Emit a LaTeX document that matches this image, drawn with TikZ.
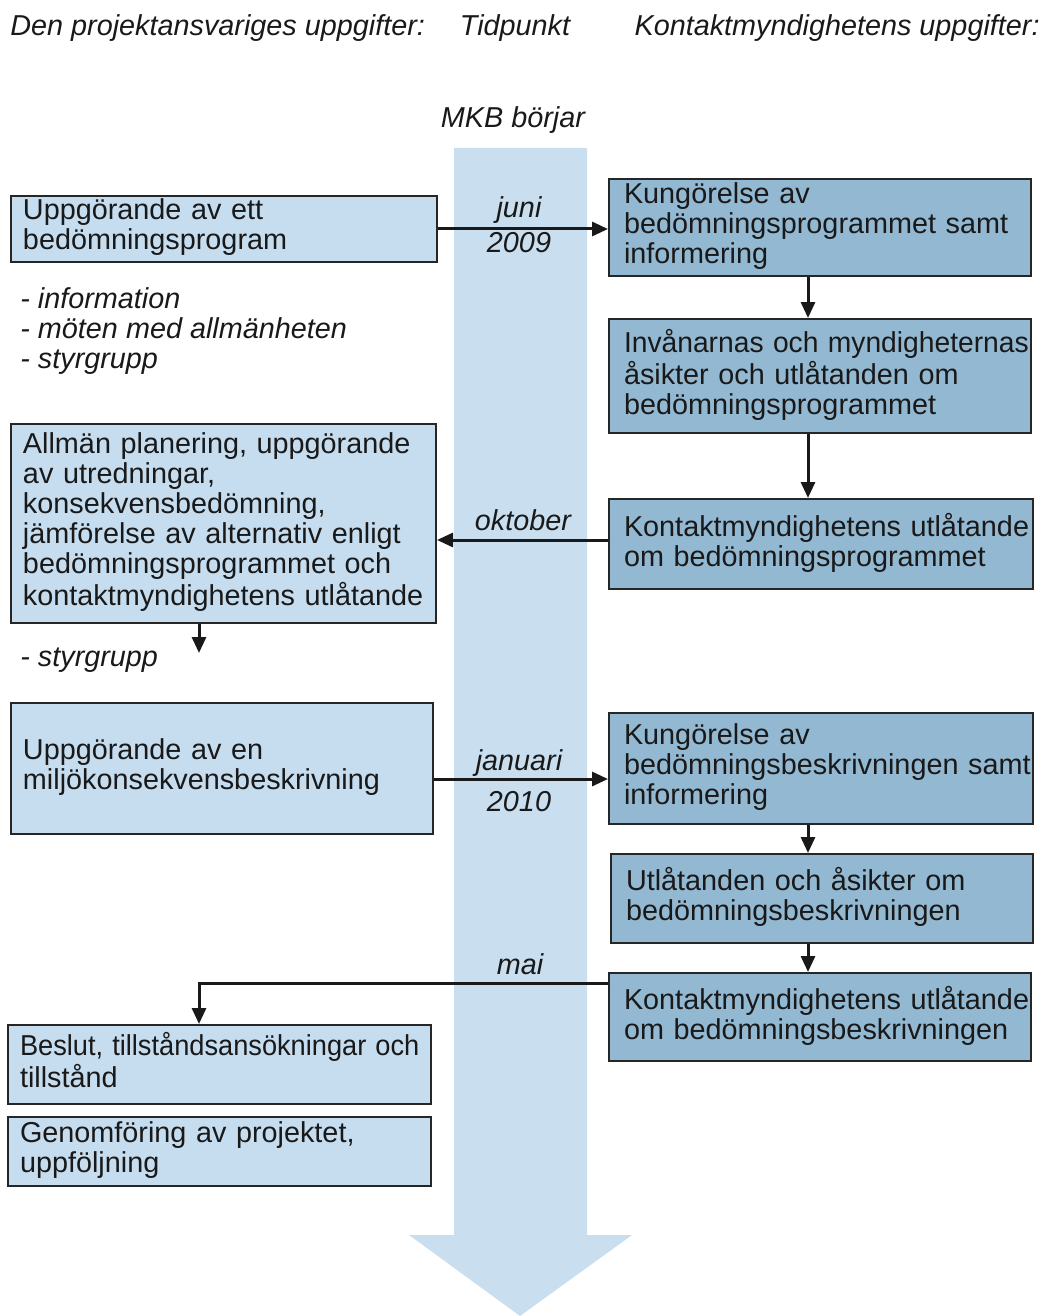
\documentclass[tikz,border=0pt]{standalone}
\usepackage{graphicx}
\usepackage{fontspec}
\setmainfont{Liberation Sans}
\usetikzlibrary{arrows, arrows.meta}

\definecolor{bandblue}{RGB}{201,223,240}
\definecolor{leftblue}{RGB}{198,221,240}
\definecolor{rightblue}{RGB}{147,184,210}

\newcommand{\boxlines}[1]{\begin{tabular}{@{}l@{}}#1\end{tabular}}
\newcommand{\tightline}[2]{\scalebox{#1}[1]{#2}}

\tikzset{
  txt/.style={font=\fontsize{14.4}{15}\selectfont, text=black!90, inner sep=0pt},
  itxt/.style={txt, font=\fontsize{14.4}{15}\selectfont\itshape},
  leftbox/.style={txt, draw=black!85, line width=1pt, fill=leftblue, anchor=north west,
    align=left, inner xsep=6pt, inner ysep=0pt},
  rightbox/.style={txt, draw=black!85, line width=1pt, fill=rightblue, anchor=north west,
    align=left, inner xsep=7.5pt, inner ysep=0pt},
  arr/.style={line width=1.5pt, black!90, -{Triangle[length=8pt,width=7pt]}},
  lin/.style={line width=1.5pt, black!90}
}

\begin{document}
\begin{tikzpicture}[x=0.5pt, y=-0.5pt]
\useasboundingbox (0,0) rectangle (1045,1316);
%\draw[step=50,gray,very thin] (0,0) grid (1045,1316);
\fill[bandblue] (454,148) -- (587,148) -- (587,1235) -- (632,1235) -- (520,1316)
  -- (409,1235) -- (454,1235) -- cycle;

\node[itxt, anchor=west] (hleft) at (10,28) {Den projektansvariges uppgifter:};
\node[itxt] (htid) at (515,28) {Tidpunkt};
\node[itxt, anchor=east] (hright) at (1040,28) {Kontaktmyndighetens uppgifter:};
\node[itxt] (start) at (513,120) {MKB börjar};

% projektansvarig
\node[leftbox, text width=201pt, minimum height=33pt] (L1) at (10,195)
  {\boxlines{Uppgörande av ett\\bedömningsprogram}};
\node[itxt, anchor=west, align=left] (info) at (20,331)
  {- information\\- möten med allmänheten\\- styrgrupp};
\node[leftbox, text width=200.5pt, minimum height=99.5pt] (L2) at (10,423)
  {\boxlines{Allmän planering, uppgörande\\av utredningar,\\konsekvensbedömning,\\jämförelse av alternativ enligt\\bedömningsprogrammet och\\kontaktmyndighetens utlåtande}};
\node[itxt, anchor=west] (styr) at (20,660) {- styrgrupp};
\node[leftbox, text width=199pt, minimum height=65.5pt] (L3) at (10,702)
  {\boxlines{Uppgörande av en\\miljökonsekvensbeskrivning}};
\node[leftbox, text width=199.5pt, minimum height=39.5pt] (L4) at (7,1024)
  {\boxlines{\tightline{0.945}{Beslut, tillståndsansökningar och}\\tillstånd}};
\node[leftbox, text width=199.5pt, minimum height=34.5pt] (L5) at (7,1116)
  {\boxlines{Genomföring av projektet,\\uppföljning}};

% kontaktmyndighet
\node[rightbox, text width=196pt, minimum height=48.5pt] (R1) at (608,178)
  {\boxlines{Kungörelse av\\bedömningsprogrammet samt\\informering}};
\node[rightbox, text width=196pt, minimum height=57pt] (R2) at (608,318)
  {\boxlines{\tightline{0.98}{Invånarnas och myndigheternas}\\åsikter och utlåtanden om\\bedömningsprogrammet}};
\node[rightbox, text width=197pt, minimum height=45pt] (R3) at (608,498)
  {\boxlines{Kontaktmyndighetens utlåtande\\om bedömningsprogrammet}};
\node[rightbox, text width=197pt, minimum height=55.5pt] (R4) at (608,712)
  {\boxlines{Kungörelse av\\bedömningsbeskrivningen samt\\informering}};
\node[rightbox, text width=196pt, minimum height=44.5pt] (R5) at (610,853)
  {\boxlines{Utlåtanden och åsikter om\\bedömningsbeskrivningen}};
\node[rightbox, text width=196pt, minimum height=44pt] (R6) at (608,972)
  {\boxlines{Kontaktmyndighetens utlåtande\\om bedömningsbeskrivningen}};

% tidpunkter
\node[itxt] (juni) at (519,210) {juni};
\node[itxt] (y2009) at (519,243) {2009};
\node[itxt] (okt) at (523,520) {oktober};
\node[itxt] (jan) at (519,763) {januari};
\node[itxt] (y2010) at (519,802) {2010};
\node[itxt] (mai) at (520,964) {mai};

\coordinate (styrend) at (199,653);

\draw[arr] (L1.east) -- (L1.east -| R1.west);
\draw[arr] (R3.west |- 0,540) -- (L2.east |- 0,540);
\draw[arr] (L2.south -| styrend) -- (styrend);
\draw[arr] (L3.east |- 0,779) -- (R4.west |- 0,779);
\draw[arr] (R6.west |- 0,983) -| (L4.north -| styrend);
\draw[arr] (R1.south -| 808,0) -- (R2.north -| 808,0);
\draw[arr] (R2.south -| 808,0) -- (R3.north -| 808,0);
\draw[arr] (R4.south -| 808,0) -- (R5.north -| 808,0);
\draw[arr] (R5.south -| 808,0) -- (R6.north -| 808,0);
\end{tikzpicture}
\end{document}
